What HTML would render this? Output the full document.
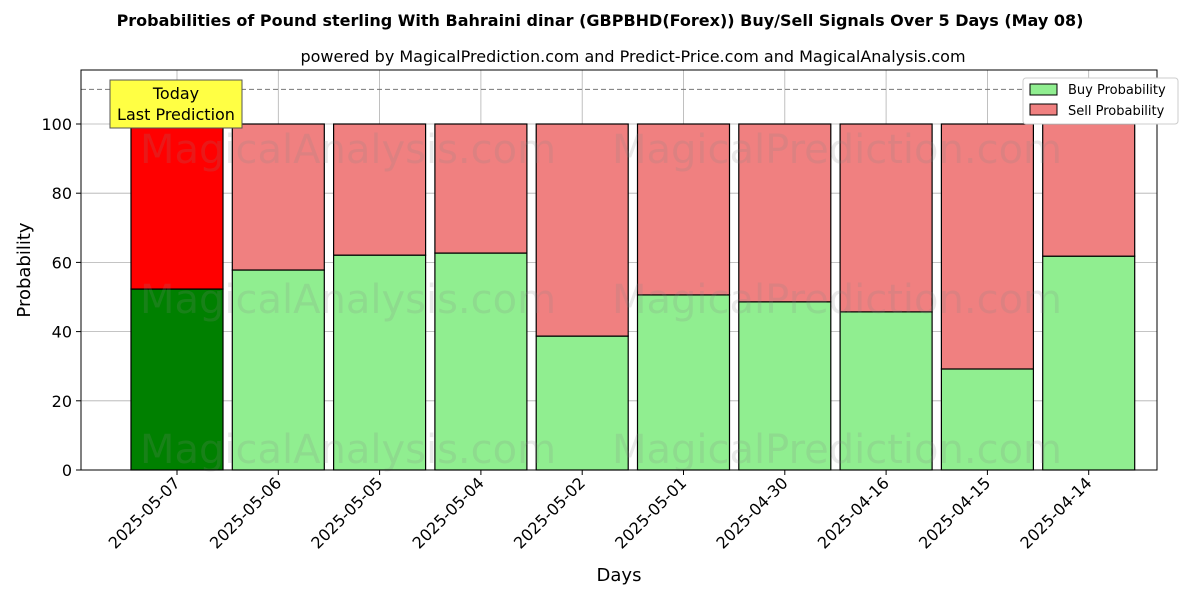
<!DOCTYPE html>
<html><head><meta charset="utf-8"><style>
body{margin:0;background:#fff;font-family:"Liberation Sans","DejaVu Sans",sans-serif;}
svg text{font-family:"DejaVu Sans","Liberation Sans",sans-serif;}
</style></head><body>
<svg id="chart" width="1200" height="600" xmlns="http://www.w3.org/2000/svg">
<text x="600" y="26" text-anchor="middle" font-size="16" font-weight="bold">Probabilities of Pound sterling With Bahraini dinar (GBPBHD(Forex)) Buy/Sell Signals Over 5 Days (May 08)</text>
<text x="633" y="62" text-anchor="middle" font-size="16">powered by MagicalPrediction.com and Predict-Price.com and MagicalAnalysis.com</text>
<g id="grid"></g>
<g id="bars"></g>
<g id="wm" fill="#888" opacity="0.18" font-size="40">
<text x="348" y="163" text-anchor="middle">MagicalAnalysis.com</text>
<text x="837" y="163" text-anchor="middle">MagicalPrediction.com</text>
<text x="348" y="313" text-anchor="middle">MagicalAnalysis.com</text>
<text x="837" y="313" text-anchor="middle">MagicalPrediction.com</text>
<text x="348" y="463" text-anchor="middle">MagicalAnalysis.com</text>
<text x="837" y="463" text-anchor="middle">MagicalPrediction.com</text>
</g>
<line x1="81" y1="89.4" x2="1157" y2="89.4" stroke="#777" stroke-dasharray="5,3"/>
<rect x="81" y="70" width="1076" height="400" fill="none" stroke="#000"/>
<g id="axes"></g>
<text x="30" y="270" transform="rotate(-90 30 270)" text-anchor="middle" font-size="18">Probability</text>
<text x="619" y="581" text-anchor="middle" font-size="18">Days</text>
<g>
<rect x="110" y="80" width="132" height="48" fill="#ffff44" stroke="#555"/>
<text x="176" y="99" text-anchor="middle" font-size="16">Today</text>
<text x="176" y="120" text-anchor="middle" font-size="16">Last Prediction</text>
</g>
<g>
<rect x="1023" y="78" width="155" height="46" fill="#fff" stroke="#ccc" rx="3"/>
<rect x="1030" y="84" width="27" height="11" fill="#90ee90" stroke="#000"/>
<text x="1068" y="94" font-size="13">Buy Probability</text>
<rect x="1030" y="104" width="27" height="11" fill="#f08080" stroke="#000"/>
<text x="1068" y="115" font-size="13">Sell Probability</text>
</g>
</svg>
<script>
const categories=["2025-05-07","2025-05-06","2025-05-05","2025-05-04","2025-05-02","2025-05-01","2025-04-30","2025-04-16","2025-04-15","2025-04-14"];
const buyValues=[52.3,57.8,62.1,62.7,38.7,50.6,48.6,45.7,29.2,61.8];
const sellValues=[47.7,42.2,37.9,37.3,61.3,49.4,51.4,54.3,70.8,38.2];
const yTicks=[0,20,40,60,80,100];
const NS="http://www.w3.org/2000/svg";
function y(v){return 470-v*3.46;}
function x(i){return 177+i*101.3;}
function mk(tag,attrs,parent,txt){const e=document.createElementNS(NS,tag);for(const k in attrs)e.setAttribute(k,attrs[k]);if(txt!==undefined)e.textContent=txt;parent.appendChild(e);return e;}
const grid=document.getElementById('grid'),bars=document.getElementById('bars'),axes=document.getElementById('axes');
yTicks.forEach(t=>{
 const l=mk('line',{x1:81,x2:1157,y1:y(t),y2:y(t),stroke:'#b0b0b0','stroke-width':0.8},grid);
 
 
 mk('line',{x1:76,x2:81,y1:y(t),y2:y(t),stroke:'#000'},axes);
 const tx=mk('text',{x:72,y:y(t)+6,'text-anchor':'end','font-size':16},axes,t);
 
 
});
categories.forEach((c,i)=>{
 const l=mk('line',{x1:x(i),x2:x(i),y1:70,y2:470,stroke:'#b0b0b0','stroke-width':0.8},grid);
 
 
 const b=buyValues[i],s=sellValues[i];
 const rb=mk('rect',{x:x(i)-46,width:92,y:y(b),height:y(0)-y(b),fill:i===0?'#008000':'#90ee90',stroke:'#000','stroke-width':1.2},bars);
 
 
 const rs=mk('rect',{x:x(i)-46,width:92,y:y(b+s),height:y(b)-y(b+s),fill:i===0?'#ff0000':'#f08080',stroke:'#000','stroke-width':1.2},bars);
 
 
 mk('line',{x1:x(i),x2:x(i),y1:470,y2:475,stroke:'#000'},axes);
 const tx=mk('text',{x:x(i)+4,y:484,'text-anchor':'end','font-size':16,transform:`rotate(-45 ${x(i)+4} 484)`},axes,c);
 
 
});
</script>
</body></html>
